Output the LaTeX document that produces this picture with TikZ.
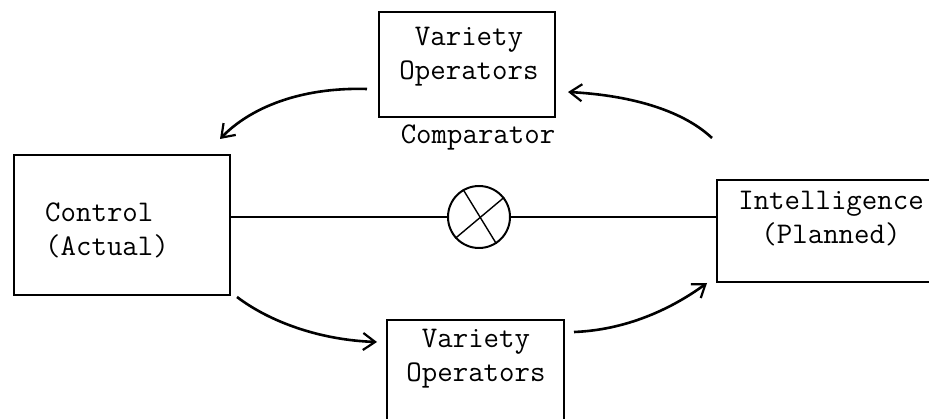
\documentclass[tikz,border=0pt]{standalone}
\usetikzlibrary{arrows.meta}
\begin{document}
\begin{tikzpicture}[x=1pt,y=-1pt,
  boxst/.style={draw,line width=1.4pt,inner sep=0pt},
  txt/.style={font=\fontsize{30}{34}\ttfamily,align=center,inner sep=0pt},
  arr/.style={line width=2.6pt,-{Straight Barb[length=12pt,width=17pt,line width=2.2pt]}},
  wire/.style={line width=1.2pt}]
\clip (0,0) rectangle (929,419);
% boxes
\node[boxst,minimum width=176pt,minimum height=105pt] (top) at (467,64.5) {};
\node[txt] (toptxt) at (469,57) {Variety\\Operators};
\node[txt] (comp) at (478,137) {Comparator};
\node[boxst,minimum width=216pt,minimum height=140pt] (ctrl) at (122,225) {};
\node[txt,align=left] (ctrltxt) at (107,230) {Control\\(Actual)};
\node[boxst,minimum width=230pt,minimum height=102pt] (intel) at (832,231) {};
\node[txt] (inteltxt) at (831,219) {Intelligence\\(Planned)};
\node[boxst,minimum width=177pt,minimum height=120pt] (bot) at (475.5,380) {};
\node[txt] (bottxt) at (476,359) {Variety\\Operators};
% comparator
\node[draw,circle,line width=2pt,minimum size=62pt,inner sep=0pt] (cmp) at (479,217) {};
\draw[line width=1.4pt] (cmp.120) -- (cmp.-57);
\draw[line width=1.4pt] (cmp.38) -- (cmp.222);
\draw[wire] (ctrl.east |- cmp) -- (cmp.west);
\draw[wire] (cmp.east) -- (intel.west |- cmp);
% arrow end points
\coordinate (a1s) at (367,89);  \coordinate (a1e) at (220,139);
\coordinate (a2s) at (712,138); \coordinate (a2e) at (568,92);
\coordinate (a3s) at (237,297); \coordinate (a3e) at (377,342);
\coordinate (a4s) at (574,332); \coordinate (a4e) at (707,283);
\draw[arr] (a1s) .. controls (300,87) and (250,108) .. (a1e);
\draw[arr] (a2s) .. controls (680,108) and (625,95) .. (a2e);
\draw[arr] (a3s) .. controls (270,322) and (320,340) .. (a3e);
\draw[arr] (a4s) .. controls (625,330) and (670,310) .. (a4e);
\end{tikzpicture}
\end{document}
